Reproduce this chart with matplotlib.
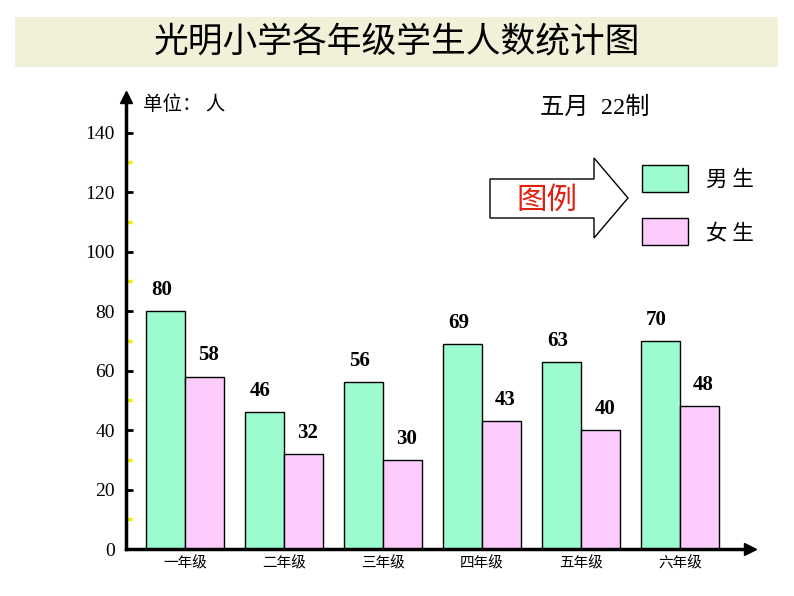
import matplotlib
matplotlib.use("Agg")
import matplotlib.pyplot as plt
from matplotlib.patches import Rectangle, Polygon
import numpy as np

plt.rcParams['font.family'] = ['Liberation Serif', 'Noto Sans CJK SC', 'DejaVu Sans']

grades = ["一年级", "二年级", "三年级", "四年级", "五年级", "六年级"]
boys = [80, 46, 56, 69, 63, 70]
girls = [58, 32, 30, 43, 40, 48]
yticks = [0, 20, 40, 60, 80, 100, 120, 140]

boy_color = "#9CFBCF"
girl_color = "#FDCBFB"
cjk = ['Noto Sans CJK SC', 'DejaVu Sans']

fig = plt.figure(figsize=(7.94, 5.96), dpi=100)

# main chart axes (pixel placement of the reference)
W, H = 794, 596
left, right, bottom, top = 126, 750, 549, 97
ax = fig.add_axes([left / W, 1 - bottom / H, (right - left) / W, (bottom - top) / H])
ax.patch.set_visible(False)

x = np.arange(len(grades))
w = 0.394
ax.bar(x - w / 2, boys, w, color=boy_color, edgecolor="black", linewidth=1)
ax.bar(x + w / 2, girls, w, color=girl_color, edgecolor="black", linewidth=1)

for i in range(len(grades)):
    ax.annotate(str(boys[i]), (x[i] - w / 2, boys[i]), xytext=(-3, 8), textcoords="offset points",
                ha="center", va="bottom", fontsize=15, fontweight="bold", family="Liberation Serif")
    ax.annotate(str(girls[i]), (x[i] + w / 2, girls[i]), xytext=(3, 8), textcoords="offset points",
                ha="center", va="bottom", fontsize=15, fontweight="bold", family="Liberation Serif")

ax.set_xlim(-0.596, 5.707)
ax.set_ylim(0, 152)
ax.set_yticks(yticks)
ax.set_yticklabels([str(v) for v in yticks], fontsize=14)
ax.set_yticks(np.arange(10, 140, 20), minor=True)
ax.tick_params(axis="y", which="major", direction="in", length=5, width=2, pad=8, color="black")
ax.tick_params(axis="y", which="minor", direction="in", length=4, width=2.5, color="#EEEE00")
ax.set_xticks(x)
ax.set_xticklabels(grades, fontsize=10.5, family=cjk)
ax.tick_params(axis="x", length=0, pad=5)

for s in ["top", "right"]:
    ax.spines[s].set_visible(False)
for s in ["left", "bottom"]:
    ax.spines[s].set_linewidth(2.5)
ax.plot(1, 0, ">k", markersize=8, transform=ax.transAxes, clip_on=False)
ax.plot(0, 1, "^k", markersize=8, transform=ax.transAxes, clip_on=False)

# overlay for the decorations
ov = fig.add_axes([0, 0, 1, 1], zorder=-1)
ov.set_xlim(0, W)
ov.set_ylim(H, 0)
ov.axis("off")

ov.add_patch(Rectangle((15, 17), 763, 50, facecolor="#F1F1D9", edgecolor="none"))
ov.text(397, 43, "光明小学各年级学生人数统计图", ha="center", va="center", fontsize=25, family=cjk)

ov.text(143, 104, "单位： 人", ha="left", va="center", fontsize=14, family=cjk)
ov.text(540, 108, "五月  22制", ha="left", va="center", fontsize=17.5,
        family=['Liberation Serif', 'Noto Sans CJK SC'])

ov.add_patch(Polygon([(490, 179), (594, 179), (594, 158), (628, 198), (594, 238), (594, 218), (490, 218)],
                     closed=True, facecolor="white", edgecolor="black", linewidth=1))
ov.text(547, 200, "图例", ha="center", va="center", fontsize=22, color="#E02010", family=cjk)

ov.add_patch(Rectangle((642, 165), 46, 27, facecolor=boy_color, edgecolor="black", linewidth=1))
ov.add_patch(Rectangle((642, 218), 46, 27, facecolor=girl_color, edgecolor="black", linewidth=1))
ov.text(706, 180, "男 生", ha="left", va="center", fontsize=15.5, family=cjk)
ov.text(706, 234, "女 生", ha="left", va="center", fontsize=15.5, family=cjk)

fig.savefig("out.png", dpi=100)
